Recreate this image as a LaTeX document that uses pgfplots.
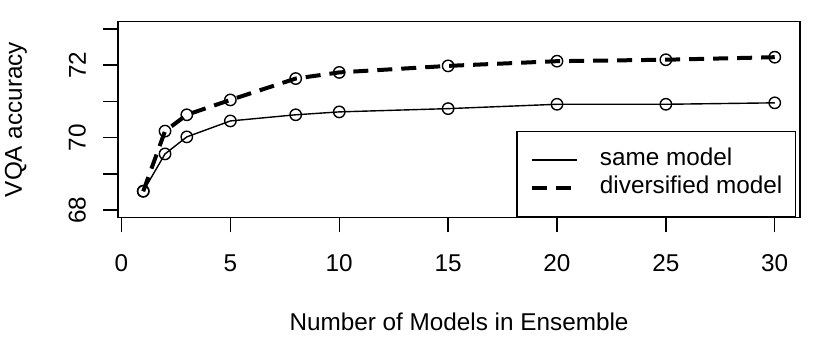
\documentclass[border=0pt]{standalone}
\usepackage{fontspec}
\setmainfont{Liberation Sans}
\usepackage{pgfplots}
\pgfplotsset{compat=1.18}

\begin{document}
\fontsize{24.3}{29}\selectfont
\begin{tikzpicture}
\useasboundingbox (0pt,0pt) rectangle (834pt,355pt);
\begin{axis}[
  at={(118pt,137.7pt)}, anchor=south west,
  scale only axis,
  width=682pt, height=195.6pt,
  xmin=-0.16, xmax=31.16,
  ymin=67.8, ymax=73.2,
  axis line style={line width=1.4pt},
  xtick={0,5,10,15,20,25,30},
  ytick={68,69,70,71,72,73},
  yticklabels={68,,70,,72,},
  xtick pos=bottom, ytick pos=left,
  tick align=outside,
  major tick length=15pt,
  tick style={line width=1.4pt, black},
  /pgf/number format/assume math mode=true,
  ticklabel style={font=\fontsize{24.3}{29}\selectfont},
  xticklabel style={anchor=north, inner sep=0pt, yshift=-22pt},
  yticklabel style={xshift=-17pt, rotate=90, anchor=south, inner sep=0pt},
  xlabel={Number of Models in Ensemble},
  ylabel={VQA accuracy},
  every axis x label/.style={at={(axis description cs:0.5,0)}, anchor=center, yshift=-105pt},
  every axis y label/.style={at={(axis description cs:0,0.5)}, xshift=-102pt, rotate=90, anchor=center},
  legend image code/.code={\draw[#1] (4pt,0pt) -- (49pt,0pt);},
  legend style={at={(rel axis cs:1,0)}, xshift=-4pt, anchor=south east, draw=black, line width=1.4pt, fill=white,
    inner xsep=13pt, inner ysep=17pt, row sep=5pt, column sep=21pt,
    nodes={inner sep=0pt, text height=17pt, text depth=6pt, line width=1.4pt},
    font=\fontsize{24.3}{29}\selectfont},
  legend cell align=left,
]
% same model
\addplot[black, line width=1.4pt, mark=o, mark size=5.7pt, mark options={solid, line width=1.4pt}] coordinates {
  (1,68.52) (2,69.55) (3,70.02) (5,70.46) (8,70.63) (10,70.71)
  (15,70.80) (20,70.92) (25,70.92) (30,70.96)
};
% diversified model
\addplot[black, line width=4pt, dash pattern=on 15pt off 9pt, mark=o, mark size=5.7pt, mark options={solid, line width=1.4pt}] coordinates {
  (1,68.52) (2,70.18) (3,70.63) (5,71.04) (8,71.63) (10,71.80)
  (15,71.98) (20,72.11) (25,72.15) (30,72.22)
};
\legend{same model, diversified model}
\end{axis}
\end{tikzpicture}
\end{document}
